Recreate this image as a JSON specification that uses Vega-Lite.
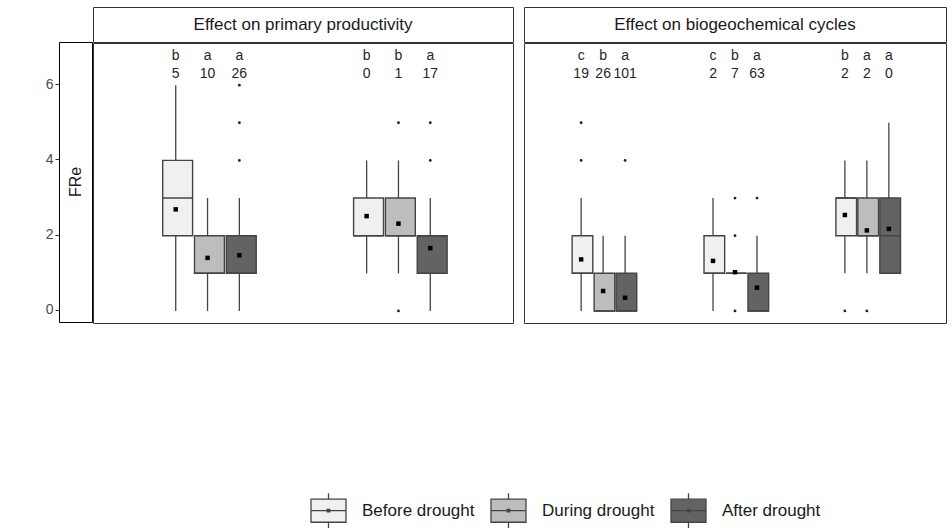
{
  "$schema": "https://vega.github.io/schema/vega-lite/v6.json",
  "padding": {"left": 44, "top": 6, "right": 5, "bottom": 0},
  "datasets": {
    "boxes": [
      {"effect": "Effect on primary productivity", "site": "S1", "period": "Before drought", "lower": 0, "q1": 2, "median": 3, "q3": 4, "upper": 6, "mean": 2.7, "letter": "b", "n": 5},
      {"effect": "Effect on primary productivity", "site": "S1", "period": "During drought", "lower": 0, "q1": 1, "median": 1, "q3": 2, "upper": 3, "mean": 1.41, "letter": "a", "n": 10},
      {"effect": "Effect on primary productivity", "site": "S1", "period": "After drought", "lower": 0, "q1": 1, "median": 1, "q3": 2, "upper": 3, "mean": 1.48, "letter": "a", "n": 26},
      {"effect": "Effect on primary productivity", "site": "S2", "period": "Before drought", "lower": 1, "q1": 2, "median": 2, "q3": 3, "upper": 4, "mean": 2.52, "letter": "b", "n": 0},
      {"effect": "Effect on primary productivity", "site": "S2", "period": "During drought", "lower": 1, "q1": 2, "median": 2, "q3": 3, "upper": 4, "mean": 2.32, "letter": "b", "n": 1},
      {"effect": "Effect on primary productivity", "site": "S2", "period": "After drought", "lower": 0, "q1": 1, "median": 2, "q3": 2, "upper": 3, "mean": 1.67, "letter": "a", "n": 17},
      {"effect": "Effect on biogeochemical cycles", "site": "S1", "period": "Before drought", "lower": 0, "q1": 1, "median": 1, "q3": 2, "upper": 3, "mean": 1.37, "letter": "c", "n": 19},
      {"effect": "Effect on biogeochemical cycles", "site": "S1", "period": "During drought", "lower": 0, "q1": 0, "median": 0, "q3": 1, "upper": 2, "mean": 0.53, "letter": "b", "n": 26},
      {"effect": "Effect on biogeochemical cycles", "site": "S1", "period": "After drought", "lower": 0, "q1": 0, "median": 0, "q3": 1, "upper": 2, "mean": 0.35, "letter": "a", "n": 101},
      {"effect": "Effect on biogeochemical cycles", "site": "S2", "period": "Before drought", "lower": 0, "q1": 1, "median": 1, "q3": 2, "upper": 3, "mean": 1.33, "letter": "c", "n": 2},
      {"effect": "Effect on biogeochemical cycles", "site": "S2", "period": "During drought", "lower": 1, "q1": 1, "median": 1, "q3": 1, "upper": 1, "mean": 1.03, "letter": "b", "n": 7},
      {"effect": "Effect on biogeochemical cycles", "site": "S2", "period": "After drought", "lower": 0, "q1": 0, "median": 0, "q3": 1, "upper": 2, "mean": 0.62, "letter": "a", "n": 63},
      {"effect": "Effect on biogeochemical cycles", "site": "S3", "period": "Before drought", "lower": 1, "q1": 2, "median": 3, "q3": 3, "upper": 4, "mean": 2.55, "letter": "b", "n": 2},
      {"effect": "Effect on biogeochemical cycles", "site": "S3", "period": "During drought", "lower": 1, "q1": 2, "median": 2, "q3": 3, "upper": 4, "mean": 2.14, "letter": "a", "n": 2},
      {"effect": "Effect on biogeochemical cycles", "site": "S3", "period": "After drought", "lower": 1, "q1": 1, "median": 2, "q3": 3, "upper": 5, "mean": 2.18, "letter": "a", "n": 0}
    ],
    "outliers": [
      {"effect": "Effect on primary productivity", "site": "S1", "period": "After drought", "value": 4},
      {"effect": "Effect on primary productivity", "site": "S1", "period": "After drought", "value": 5},
      {"effect": "Effect on primary productivity", "site": "S1", "period": "After drought", "value": 6},
      {"effect": "Effect on primary productivity", "site": "S2", "period": "During drought", "value": 0},
      {"effect": "Effect on primary productivity", "site": "S2", "period": "During drought", "value": 5},
      {"effect": "Effect on primary productivity", "site": "S2", "period": "After drought", "value": 4},
      {"effect": "Effect on primary productivity", "site": "S2", "period": "After drought", "value": 5},
      {"effect": "Effect on biogeochemical cycles", "site": "S1", "period": "Before drought", "value": 4},
      {"effect": "Effect on biogeochemical cycles", "site": "S1", "period": "Before drought", "value": 5},
      {"effect": "Effect on biogeochemical cycles", "site": "S1", "period": "After drought", "value": 4},
      {"effect": "Effect on biogeochemical cycles", "site": "S2", "period": "During drought", "value": 0},
      {"effect": "Effect on biogeochemical cycles", "site": "S2", "period": "During drought", "value": 2},
      {"effect": "Effect on biogeochemical cycles", "site": "S2", "period": "During drought", "value": 3},
      {"effect": "Effect on biogeochemical cycles", "site": "S2", "period": "After drought", "value": 3},
      {"effect": "Effect on biogeochemical cycles", "site": "S3", "period": "Before drought", "value": 0},
      {"effect": "Effect on biogeochemical cycles", "site": "S3", "period": "During drought", "value": 0}
    ]
  },
  "config": {
    "font": "Liberation Sans",
    "view": {"stroke": "#333333", "strokeWidth": 1},
    "axis": {"grid": false}
  },
  "resolve": {"scale": {"x": "independent", "xOffset": "independent"}},
  "spacing": -2,
  "hconcat": [
    {
      "spacing": -2,
      "vconcat": [
        {
          "width": 33, "height": 35,
          "data": {"values": [{}]},
          "mark": "text",
          "encoding": {"text": {"value": ""}},
          "view": {"stroke": null}
        },
        {
          "width": 33, "height": 280,
          "data": {"values": [{"label": "FRe"}]},
          "mark": {"type": "text", "angle": 270, "fontSize": 16, "color": "#1a1a1a"},
          "encoding": {
            "text": {"field": "label"},
            "y": {
              "datum": 3.4, "type": "quantitative",
              "scale": {"domain": [-0.32, 7.12], "nice": false, "zero": false},
              "axis": {"values": [0, 2, 4, 6], "title": null, "domain": false, "grid": false, "tickSize": 4, "tickColor": "#333333", "labelFontSize": 14, "labelColor": "#4d4d4d", "labelPadding": 2}
            }
          },
          "view": {"stroke": "#000000"}
        }
      ]
    },
    {
      "spacing": 9,
      "resolve": {"scale": {"x": "independent", "xOffset": "independent"}},
      "hconcat": [
        {
          "spacing": -2,
          "resolve": {"scale": {"x": "independent", "xOffset": "independent"}},
          "vconcat": [
            {
              "width": 420, "height": 35,
              "data": {"values": [{"label": "Effect on primary productivity"}]},
              "mark": {"type": "text", "fontSize": 17, "color": "#1a1a1a"},
              "encoding": {"text": {"field": "label"}},
              "view": {"fill": "white", "stroke": "#333333", "strokeWidth": 1}
            },
            {
              "width": 420, "height": 280,
              "data": {"name": "boxes"},
              "transform": [{"filter": "datum.effect === 'Effect on primary productivity'"}],
              "encoding": {
                "x": {"field": "site", "type": "nominal", "scale": {"paddingInner": 0.5, "paddingOuter": 0.35}, "axis": null},
                "xOffset": {"field": "period", "type": "nominal", "scale": {"domain": ["Before drought", "During drought", "After drought"], "paddingInner": 0, "paddingOuter": 0}}
              },
              "layer": [
                {
                  "mark": {"type": "rule", "color": "#444444", "strokeWidth": 1.3},
                  "encoding": {
                    "y": {"field": "lower", "type": "quantitative", "scale": {"domain": [-0.32, 7.12], "nice": false, "zero": false}, "axis": null},
                    "y2": {"field": "upper"}
                  }
                },
                {
                  "mark": {"type": "bar", "width": {"band": 0.94}, "stroke": "#444444", "strokeWidth": 1.4},
                  "encoding": {
                    "y": {"field": "q1", "type": "quantitative"},
                    "y2": {"field": "q3"},
                    "fill": {
                      "field": "period", "type": "nominal",
                      "scale": {"domain": ["Before drought", "During drought", "After drought"], "range": ["#f0f0f0", "#bdbdbd", "#636363"]},
                      "legend": {
                        "orient": "none", "legendX": 251, "legendY": 485, "direction": "horizontal", "title": null,
                        "symbolType": "M-1,-0.66H1V0.66H-1Z M-1,0H1 M0,-0.66V-1 M0,0.66V1 M-0.07,-0.07H0.07V0.07H-0.07Z",
                        "symbolSize": 1225, "symbolStrokeWidth": 1.3, "symbolStrokeColor": "#555555", "symbolOpacity": 1,
                        "labelFontSize": 17, "labelColor": "#1a1a1a", "labelOffset": 15, "columnPadding": 13
                      }
                    }
                  }
                },
                {
                  "mark": {"type": "bar", "width": {"band": 0.94}, "fillOpacity": 0, "stroke": "#444444", "strokeWidth": 1.4},
                  "encoding": {
                    "y": {"field": "median", "type": "quantitative"},
                    "y2": {"field": "median"}
                  }
                },
                {
                  "data": {"name": "outliers"},
                  "transform": [{"filter": "datum.effect === 'Effect on primary productivity'"}],
                  "mark": {"type": "point", "filled": true, "size": 8, "color": "#222222", "opacity": 1},
                  "encoding": {"y": {"field": "value", "type": "quantitative"}}
                },
                {
                  "mark": {"type": "point", "shape": "square", "filled": true, "size": 20, "color": "#000000", "opacity": 1},
                  "encoding": {"y": {"field": "mean", "type": "quantitative"}}
                },
                {
                  "mark": {"type": "text", "fontSize": 14, "color": "#262626"},
                  "encoding": {"y": {"datum": 6.78}, "text": {"field": "letter"}}
                },
                {
                  "mark": {"type": "text", "fontSize": 14, "color": "#262626"},
                  "encoding": {"y": {"datum": 6.3}, "text": {"field": "n"}}
                }
              ]
            }
          ]
        },
        {
          "spacing": -2,
          "resolve": {"scale": {"x": "independent", "xOffset": "independent"}},
          "vconcat": [
            {
              "width": 422, "height": 35,
              "data": {"values": [{"label": "Effect on biogeochemical cycles"}]},
              "mark": {"type": "text", "fontSize": 17, "color": "#1a1a1a"},
              "encoding": {"text": {"field": "label"}},
              "view": {"fill": "white", "stroke": "#333333", "strokeWidth": 1}
            },
            {
              "width": 422, "height": 280,
              "data": {"name": "boxes"},
              "transform": [{"filter": "datum.effect === 'Effect on biogeochemical cycles'"}],
              "encoding": {
                "x": {"field": "site", "type": "nominal", "scale": {"paddingInner": 0.5, "paddingOuter": 0.35}, "axis": null},
                "xOffset": {"field": "period", "type": "nominal", "scale": {"domain": ["Before drought", "During drought", "After drought"], "paddingInner": 0, "paddingOuter": 0}}
              },
              "layer": [
                {
                  "mark": {"type": "rule", "color": "#444444", "strokeWidth": 1.3},
                  "encoding": {
                    "y": {"field": "lower", "type": "quantitative", "scale": {"domain": [-0.32, 7.12], "nice": false, "zero": false}, "axis": null},
                    "y2": {"field": "upper"}
                  }
                },
                {
                  "mark": {"type": "bar", "width": {"band": 0.94}, "stroke": "#444444", "strokeWidth": 1.4},
                  "encoding": {
                    "y": {"field": "q1", "type": "quantitative"},
                    "y2": {"field": "q3"},
                    "fill": {"field": "period", "type": "nominal"}
                  }
                },
                {
                  "mark": {"type": "bar", "width": {"band": 0.94}, "fillOpacity": 0, "stroke": "#444444", "strokeWidth": 1.4},
                  "encoding": {
                    "y": {"field": "median", "type": "quantitative"},
                    "y2": {"field": "median"}
                  }
                },
                {
                  "data": {"name": "outliers"},
                  "transform": [{"filter": "datum.effect === 'Effect on biogeochemical cycles'"}],
                  "mark": {"type": "point", "filled": true, "size": 8, "color": "#222222", "opacity": 1},
                  "encoding": {"y": {"field": "value", "type": "quantitative"}}
                },
                {
                  "mark": {"type": "point", "shape": "square", "filled": true, "size": 20, "color": "#000000", "opacity": 1},
                  "encoding": {"y": {"field": "mean", "type": "quantitative"}}
                },
                {
                  "mark": {"type": "text", "fontSize": 14, "color": "#262626"},
                  "encoding": {"y": {"datum": 6.78}, "text": {"field": "letter"}}
                },
                {
                  "mark": {"type": "text", "fontSize": 14, "color": "#262626"},
                  "encoding": {"y": {"datum": 6.3}, "text": {"field": "n"}}
                }
              ]
            }
          ]
        }
      ]
    }
  ]
}
